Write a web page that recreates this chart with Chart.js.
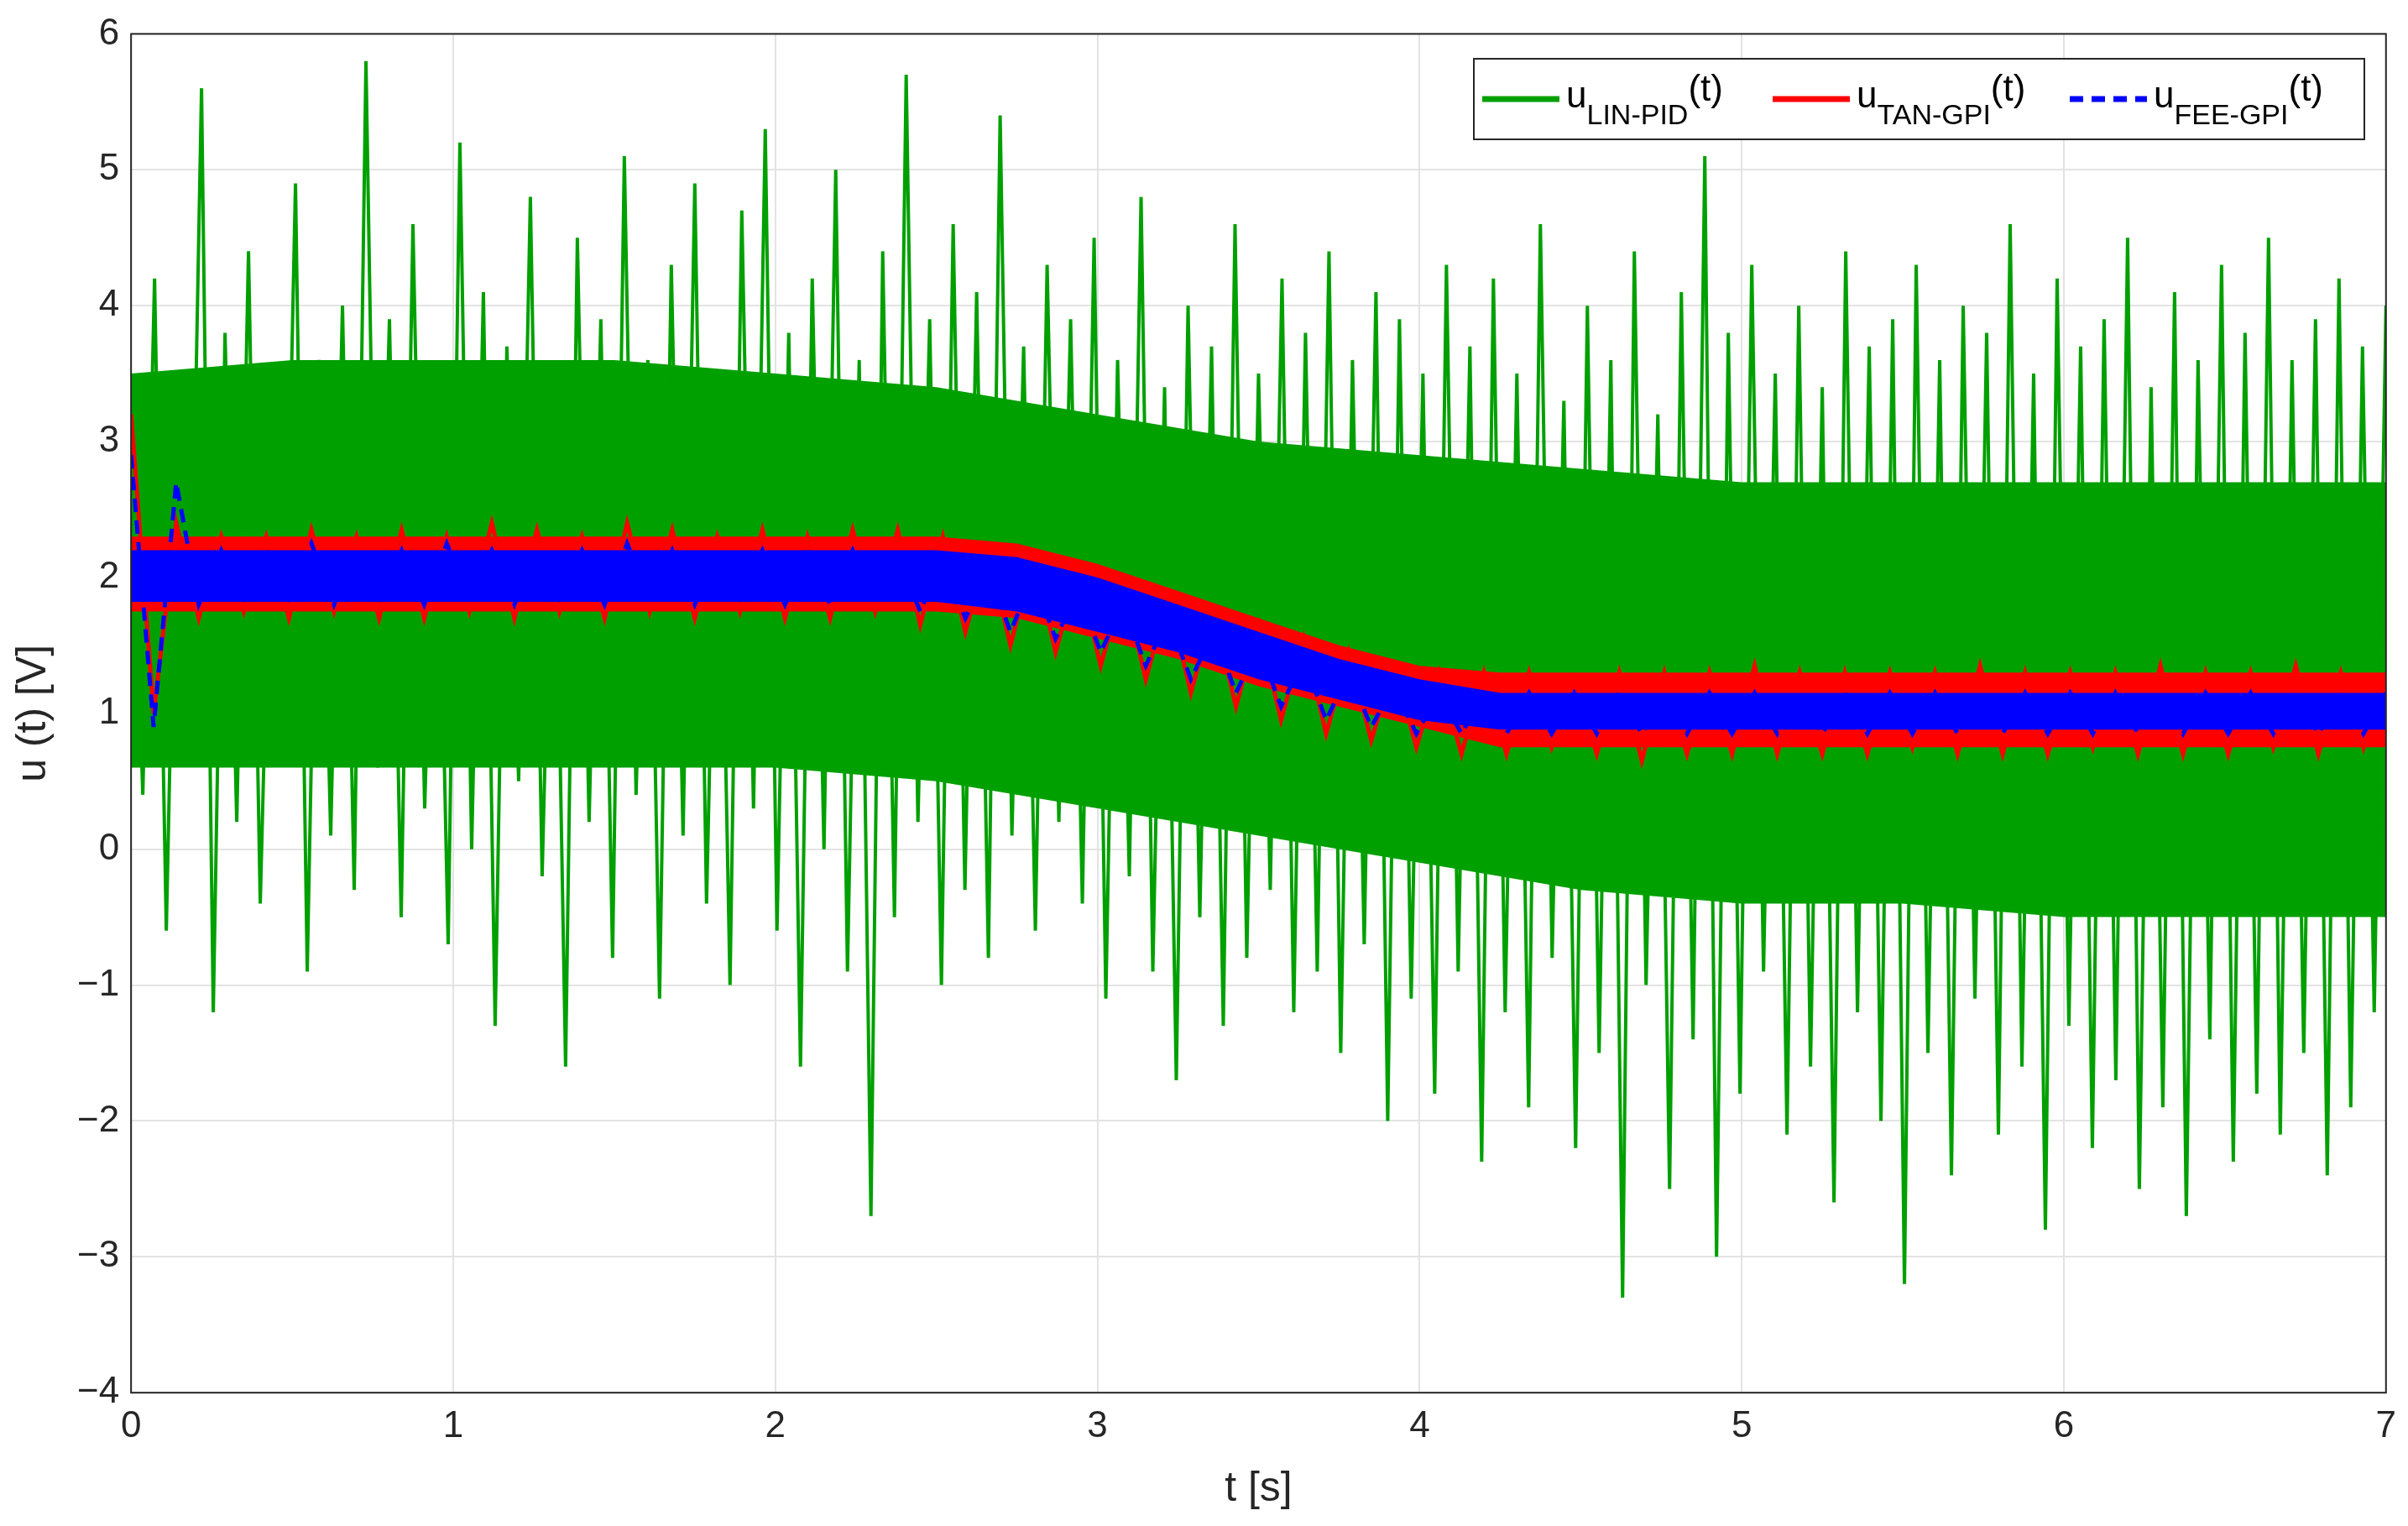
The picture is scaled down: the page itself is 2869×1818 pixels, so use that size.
<!DOCTYPE html>
<html><head><meta charset="utf-8">
<script src="https://cdn.jsdelivr.net/npm/chart.js@4/dist/chart.umd.min.js"></script>
<style>body{margin:0;background:#fff}canvas{display:block}</style>
</head><body>
<canvas id="c" width="2869" height="1818"></canvas>
<script>
const greenValues = [
3.1,0.4,4.2,-0.6,3.5,1.0,5.6,-1.2,3.8,0.2,4.4,-0.4,3.0,0.8,4.9,-0.9,3.6,0.1,4.0,-0.3,
5.8,0.6,3.9,-0.5,4.6,0.3,3.4,-0.7,5.2,0.0,4.1,-1.3,3.7,0.5,4.8,-0.2,3.3,-1.6,4.5,0.2,
3.9,-0.8,5.1,0.4,3.6,-1.1,4.3,0.1,4.9,-0.4,3.5,-1.0,4.7,0.3,5.3,-0.6,3.8,-1.6,4.2,0.0,
5.0,-0.9,3.6,-2.7,4.4,-0.5,5.7,0.2,3.9,-1.0,4.6,-0.3,4.1,-0.8,5.4,0.1,3.7,-0.6,4.3,0.2,
3.9,-0.4,4.5,-1.1,3.6,-0.2,4.8,-0.9,3.4,-1.7,4.0,-0.5,3.7,-1.3,4.6,-0.8,3.5,-0.3,4.2,-1.2,
3.8,-0.9,4.4,-1.5,3.6,-0.7,4.1,-2.0,3.9,-1.1,3.5,-1.8,4.3,-0.9,3.7,-2.3,
4.2,-1.2,3.5,-1.9,4.6,-0.8,3.3,-2.2,4.0,-1.5,3.6,-3.3,4.4,-1.0,3.2,-2.5,4.1,-1.4,
5.1,-3.0,3.8,-1.8,4.3,-0.9,3.5,-2.1,4.0,-1.6,3.4,-2.6,4.4,-1.2,3.7,-2.0,3.9,-3.2,
4.3,-1.5,3.6,-2.4,4.0,-1.1,3.8,-2.1,4.6,-1.6,3.5,-2.8,4.2,-1.3,3.7,-2.2,3.9,-1.7,
4.5,-2.5,3.4,-1.9,4.1,-2.7,3.6,-1.4,4.3,-2.3,3.8,-1.8,4.5,-2.1,3.6,-1.5,3.9,-2.4,
4.2,-1.9,3.7,-1.2,4.0
];
const redValues = [
3.2,1.0,2.4,1.7,2.3,1.75,2.3,1.7,2.35,1.75,2.3,1.7,2.35,1.7,2.3,1.75,2.4,1.7,2.35,1.75,
2.3,1.7,2.4,1.75,2.35,1.7,2.3,1.75,2.35,1.7,2.3,1.7,2.35,1.75,2.35,1.65,2.3,1.6,2.2,1.5,
2.15,1.45,2.05,1.35,1.95,1.25,1.85,1.15,1.75,1.05,1.65,0.95,1.55,0.85,1.45,0.8,1.35,0.75,1.3,0.7,
1.3,0.7,1.3,0.75,1.25,0.7,1.3,0.65,1.3,0.7,1.3,0.7,1.35,0.7,1.3,0.7,1.3,0.7,1.3,0.75,
1.3,0.7,1.35,0.7,1.3,0.7,1.3,0.75,1.3,0.7,1.35,0.7,1.3,0.7,1.3,0.75,1.35,0.7,1.3,0.75,1.3
];
const blueValues = [
2.9,0.9,2.7,1.8,2.2,1.85,2.2,1.85,2.25,1.8,2.2,1.85,2.2,1.8,2.25,1.85,2.2,1.8,2.2,1.85,
2.2,1.8,2.25,1.85,2.2,1.8,2.2,1.85,2.2,1.8,2.2,1.8,2.2,1.85,2.15,1.75,2.15,1.7,2.05,1.6,
2.0,1.55,1.9,1.45,1.8,1.35,1.7,1.25,1.6,1.15,1.5,1.05,1.4,0.95,1.3,0.9,1.2,0.85,1.15,0.85,
1.15,0.85,1.15,0.85,1.15,0.85,1.15,0.85,1.15,0.85,1.15,0.85,1.15,0.85,1.15,0.85,1.15,0.85,1.15,0.85,
1.15,0.85,1.15,0.85,1.15,0.85,1.15,0.85,1.15,0.85,1.15,0.85,1.15,0.85,1.15,0.85,1.15,0.85,1.15,0.85,1.15
];
// dense-core envelopes (every 0.5 s for green, 0.25 s for red/blue)
const greenUpper = [3.5,3.6,3.6,3.6,3.5,3.4,3.2,3.0,2.9,2.8,2.7,2.7,2.7,2.7,2.7];
const greenLower = [0.6,0.6,0.6,0.6,0.6,0.5,0.3,0.1,-0.1,-0.3,-0.4,-0.4,-0.5,-0.5,-0.5];
const redUpper = [2.3,2.3,2.3,2.3,2.3,2.3,2.3,2.3,2.3,2.3,2.3,2.25,2.1,1.9,1.7,1.5,1.35,1.3,1.3,1.3,1.3,1.3,1.3,1.3,1.3,1.3,1.3,1.3,1.3];
const redLower = [1.75,1.75,1.75,1.75,1.75,1.75,1.75,1.75,1.75,1.75,1.75,1.7,1.55,1.4,1.2,1.05,0.9,0.75,0.75,0.75,0.75,0.75,0.75,0.75,0.75,0.75,0.75,0.75,0.75];
const blueUpper = [2.2,2.2,2.2,2.2,2.2,2.2,2.2,2.2,2.2,2.2,2.2,2.15,2.0,1.8,1.6,1.4,1.25,1.15,1.15,1.15,1.15,1.15,1.15,1.15,1.15,1.15,1.15,1.15,1.15];
const blueLower = [1.82,1.82,1.82,1.82,1.82,1.82,1.82,1.82,1.82,1.82,1.82,1.75,1.6,1.45,1.25,1.1,0.95,0.88,0.88,0.88,0.88,0.88,0.88,0.88,0.88,0.88,0.88,0.88,0.88];
const xTicks = [0,1,2,3,4,5,6,7];
const yTicks = [-4,-3,-2,-1,0,1,2,3,4,5,6];
const legendItems = [
  {base:'u', sub:'LIN-PID', tail:'(t)', color:'#00a000', dash:[]},
  {base:'u', sub:'TAN-GPI', tail:'(t)', color:'#ff0000', dash:[]},
  {base:'u', sub:'FEE-GPI', tail:'(t)', color:'#0000ff', dash:[16,10]}
];
const T = 7;
const toPts = arr => arr.map((v,i)=>({x: i*T/(arr.length-1), y: v}));

const FONT = 'Liberation Sans, Arial, sans-serif';
const frame = {
  id:'frame',
  afterDraw(ch){
    const {ctx, chartArea:a} = ch;
    ctx.save();
    ctx.strokeStyle='#262626'; ctx.lineWidth=2;
    ctx.strokeRect(a.left, a.top, a.right-a.left, a.bottom-a.top);
    const bx1 = 1756, by1 = 70, bx2 = 2817, by2 = 166;
    ctx.fillStyle='#fff'; ctx.fillRect(bx1,by1,bx2-bx1,by2-by1);
    ctx.strokeStyle='#262626'; ctx.lineWidth=2; ctx.strokeRect(bx1,by1,bx2-bx1,by2-by1);
    const starts=[1766, 2112, 2466];
    legendItems.forEach((it,i)=>{
      const x0=starts[i], y=118;
      ctx.strokeStyle=it.color; ctx.lineWidth=7; ctx.setLineDash(it.dash);
      ctx.beginPath(); ctx.moveTo(x0,y); ctx.lineTo(x0+92,y); ctx.stroke(); ctx.setLineDash([]);
      ctx.fillStyle='#000'; ctx.textBaseline='alphabetic';
      let x=x0+100;
      ctx.font='44px '+FONT; ctx.fillText(it.base,x,y+10); x+=ctx.measureText(it.base).width;
      ctx.font='34px '+FONT; ctx.fillText(it.sub,x,y+30); x+=ctx.measureText(it.sub).width;
      ctx.font='44px '+FONT; ctx.fillText(it.tail,x,y+2);
    });
    ctx.restore();
  }
};
const band = (arr,color,order,fill) => ({data: toPts(arr), borderWidth:0, borderColor:color, backgroundColor:color, pointRadius:0, tension:0, order, fill: fill||false});

new Chart(document.getElementById('c'), {
  type:'line',
  data:{datasets:[
    band(greenUpper,'#00a000',9),
    band(greenLower,'#00a000',8,'-1'),
    {data: toPts(greenValues), borderColor:'#00a000', borderWidth:4, pointRadius:0, tension:0, order:7, fill:false},
    band(redUpper,'#ff0000',6),
    band(redLower,'#ff0000',5,'-1'),
    {data: toPts(redValues), borderColor:'#ff0000', borderWidth:5, pointRadius:0, tension:0, order:4, fill:false},
    band(blueUpper,'#0000ff',3),
    band(blueLower,'#0000ff',2,'-1'),
    {data: toPts(blueValues), borderColor:'#0000ff', borderWidth:5, borderDash:[16,10], pointRadius:0, tension:0, order:1, fill:false}
  ]},
  options:{
    responsive:false, animation:false, devicePixelRatio:1,
    layout:{padding:{left:6, top:38, right:26, bottom:10}},
    plugins:{legend:{display:false}, tooltip:{enabled:false}, filler:{propagate:false}},
    scales:{
      x:{type:'linear', min:0, max:7,
        afterBuildTicks(s){ s.ticks = xTicks.map(v=>({value:v})); },
        grid:{color:'#e3e3e3', lineWidth:2, drawTicks:false},
        border:{display:false},
        ticks:{font:{size:44, family:FONT}, color:'#262626', padding:14},
        title:{display:true, text:'t [s]', font:{size:50, family:FONT}, color:'#262626', padding:{top:4}}
      },
      y:{min:-4, max:6,
        afterBuildTicks(s){ s.ticks = yTicks.map(v=>({value:v})); },
        grid:{color:'#e3e3e3', lineWidth:2, drawTicks:false},
        border:{display:false},
        ticks:{font:{size:44, family:FONT}, color:'#262626', padding:14, callback:v=>String(v).replace('-','\u2212')},
        title:{display:true, text:'u (t) [V]', font:{size:50, family:FONT}, color:'#262626', padding:{bottom:8}}
      }
    }
  },
  plugins:[frame]
});
</script>
</body></html>
